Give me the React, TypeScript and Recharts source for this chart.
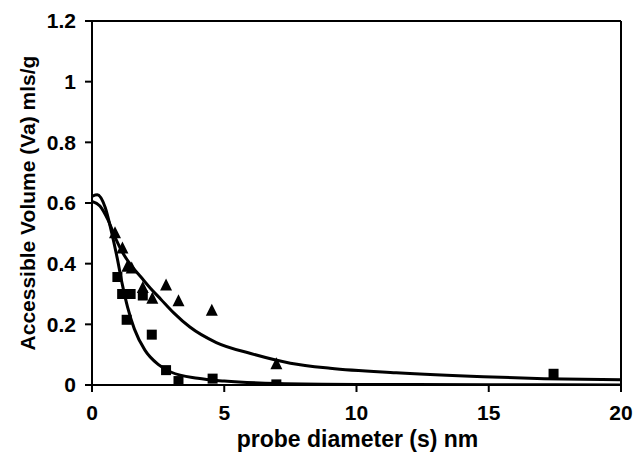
import React from 'react';
import {
  ComposedChart,
  Line,
  Scatter,
  XAxis,
  YAxis,
  ReferenceLine,
} from 'recharts';

// measured points (probe diameter nm, accessible volume mls/g)
const squareX = [0.96, 1.14, 1.46, 1.31, 1.92, 2.26, 2.8, 3.27, 4.56, 6.97, 17.45];
const squareY = [0.356, 0.3, 0.3, 0.215, 0.295, 0.166, 0.049, 0.013, 0.021, 0.002, 0.037];

const triangleX = [0.87, 1.15, 1.34, 1.5, 1.92, 2.28, 2.8, 3.27, 4.53, 6.97];
const triangleY = [0.5, 0.45, 0.39, 0.384, 0.32, 0.284, 0.328, 0.276, 0.245, 0.068];

// fitted curves
const steepFitX = [0, 0.2, 0.5, 0.75, 0.95, 1.15, 1.35, 1.6, 2.0, 2.5, 3.0, 4.0, 5.0, 7.0, 10, 15, 20];
const steepFitY = [0.622, 0.627, 0.585, 0.5, 0.42, 0.33, 0.255, 0.185, 0.115, 0.068, 0.042, 0.022, 0.013, 0.005, 0.002, 0.001, 0.0];

const slowFitX = [0, 0.3, 0.6, 0.9, 1.2, 1.5, 1.85, 2.2, 2.6, 3.1, 3.7, 4.7, 6.0, 7.5, 9.0, 11.5, 14.8, 17.1, 20];
const slowFitY = [0.605, 0.59, 0.545, 0.482, 0.43, 0.392, 0.356, 0.32, 0.283, 0.237, 0.191, 0.14, 0.104, 0.072, 0.055, 0.04, 0.027, 0.021, 0.017];

const xTicks = [0, 5, 10, 15, 20];
const yTicks = [0, 0.2, 0.4, 0.6, 0.8, 1, 1.2];

const zip = (xs: number[], ys: number[]) => xs.map((x, i) => ({ x, y: ys[i] }));

const squares = zip(squareX, squareY);
const triangles = zip(triangleX, triangleY);
const steepFit = zip(steepFitX, steepFitY);
const slowFit = zip(slowFitX, slowFitY);

const FONT = '"Liberation Sans", Arial, sans-serif';
const FS = 21;

const SquareDot = (props: any) => {
  const { cx, cy } = props;
  return <rect x={cx - 5} y={cy - 5} width={10} height={10} fill="#000" />;
};

const TriangleDot = (props: any) => {
  const { cx, cy } = props;
  return <polygon points={`${cx},${cy - 7} ${cx + 6},${cy + 5} ${cx - 6},${cy + 5}`} fill="#000" />;
};

const tickStyle = { fill: '#000', fontSize: FS, fontWeight: 700, fontFamily: FONT };

export default function App() {
  return (
    <div style={{ position: 'absolute', left: 0, top: 0, width: 633, height: 459, background: '#fff' }}>
      <ComposedChart
        width={633}
        height={459}
        margin={{ top: 21, right: 12, left: 32, bottom: 14 }}
      >
        <XAxis
          type="number"
          dataKey="x"
          domain={[0, 20]}
          ticks={xTicks}
          allowDataOverflow
          tickSize={7}
          tickMargin={13}
          height={60}
          axisLine={{ stroke: '#000', strokeWidth: 2 }}
          tickLine={{ stroke: '#000', strokeWidth: 2 }}
          tick={tickStyle}
          label={{
            content: ({ viewBox }: any) => (
              <text
                x={viewBox.x + viewBox.width / 2 + 1}
                y={viewBox.y + 62}
                textAnchor="middle"
                fontSize={23}
                fontWeight={700}
                fontFamily={FONT}
                fill="#000"
              >
                probe diameter (s) nm
              </text>
            ),
          }}
        />
        <YAxis
          type="number"
          dataKey="y"
          domain={[0, 1.2]}
          ticks={yTicks}
          allowDataOverflow
          tickSize={7}
          tickMargin={9}
          width={60}
          axisLine={{ stroke: '#000', strokeWidth: 2 }}
          tickLine={{ stroke: '#000', strokeWidth: 2 }}
          tick={tickStyle}
          label={{
            content: ({ viewBox }: any) => {
              const x = viewBox.x + 3;
              const y = viewBox.y + viewBox.height / 2;
              return (
                <text
                  x={x}
                  y={y}
                  transform={`rotate(-90, ${x}, ${y})`}
                  textAnchor="middle"
                  fontSize={FS}
                  fontWeight={700}
                  fontFamily={FONT}
                  fill="#000"
                >
                  Accessible Volume (Va) mls/g
                </text>
              );
            },
          }}
        />
        {/* box around the plot */}
        <ReferenceLine y={1.2} stroke="#000" strokeWidth={2} />
        <ReferenceLine x={20} stroke="#000" strokeWidth={2} />

        <Line
          data={steepFit}
          dataKey="y"
          type="monotone"
          stroke="#000"
          strokeWidth={3}
          dot={false}
          isAnimationActive={false}
        />
        <Line
          data={slowFit}
          dataKey="y"
          type="monotone"
          stroke="#000"
          strokeWidth={3}
          dot={false}
          isAnimationActive={false}
        />
        <Scatter data={squares} dataKey="y" shape={SquareDot} isAnimationActive={false} />
        <Scatter data={triangles} dataKey="y" shape={TriangleDot} isAnimationActive={false} />
      </ComposedChart>
    </div>
  );
}
